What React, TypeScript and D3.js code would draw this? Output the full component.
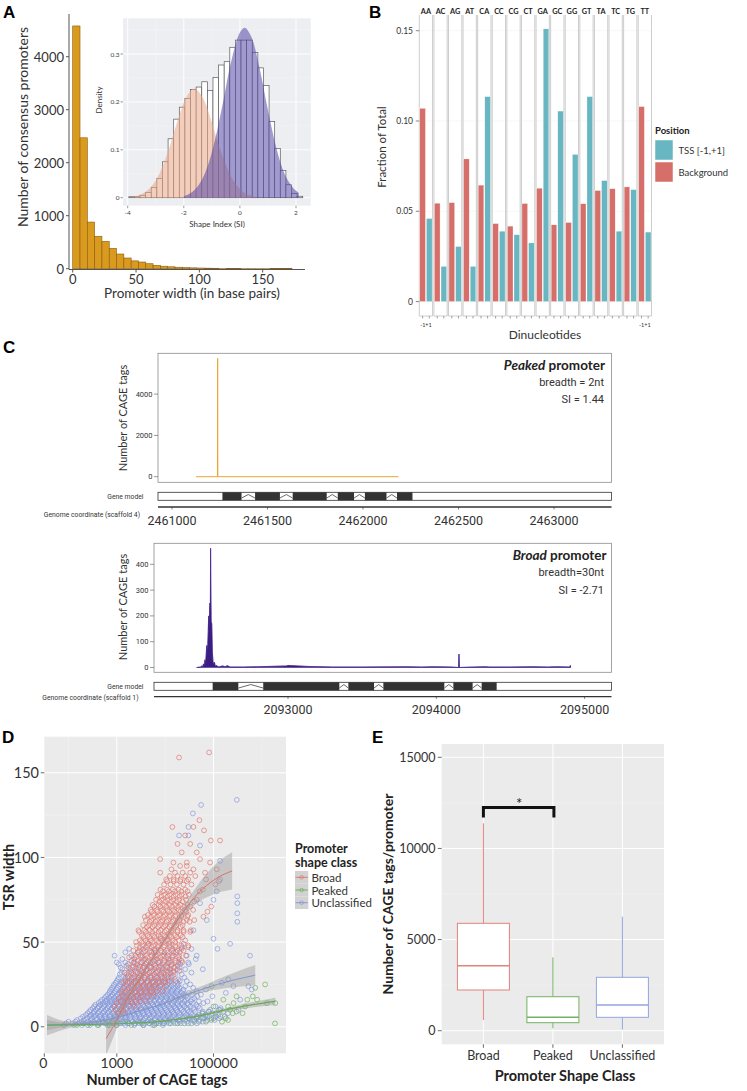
import React from "react";
import * as d3 from "d3";

const F = "Lato, 'Open Sans', 'DejaVu Sans', sans-serif";
const FN = "'Liberation Sans Narrow', Roboto, 'Noto Sans', sans-serif";
const FL = "'Liberation Sans', Arial, sans-serif";

// ---------------- Panel A data ----------------
const promWidthBinSize = 5.77;
const promWidthCounts = [4580, 2470, 880, 612, 517, 385, 277, 202, 148, 126, 94, 64, 47, 36, 28, 21, 16, 13, 10, 8, 6, 5, 4, 3, 3, 2, 2, 1, 1, 1];
const promWidthTicks = [0, 50, 100, 150];
const promCountTicks = [0, 1000, 2000, 3000, 4000];

const siBinStart = -3.96;
const siBinSize = 0.2;
const siDensity = [0.002, 0.002, 0.005, 0.011, 0.021, 0.04, 0.075, 0.123, 0.164, 0.189, 0.207, 0.226, 0.231, 0.242, 0.224, 0.251, 0.277, 0.284, 0.314, 0.329, 0.329, 0.329, 0.303, 0.271, 0.234, 0.159, 0.103, 0.057, 0.027, 0.009, 0.003];
const siTicks = [-4, -2, 0, 2];
const densityTicks = [0, 0.1, 0.2, 0.3];
const broadSI = [-3.8, -3.4, -3.0, -2.6, -2.2, -1.9, -1.62, -1.3, -1.0, -0.6, -0.2, 0.2, 0.5];
const broadSIDensity = [0.002, 0.011, 0.036, 0.09, 0.165, 0.211, 0.228, 0.206, 0.157, 0.084, 0.033, 0.009, 0.003];
const peakedSI = [-2.0, -1.8, -1.5, -1.2, -0.9, -0.6, -0.3, 0, 0.17, 0.4, 0.7, 1.0, 1.3, 1.6, 1.9, 2.1];
const peakedSIDensity = [0.003, 0.008, 0.024, 0.058, 0.118, 0.2, 0.287, 0.345, 0.355, 0.337, 0.271, 0.183, 0.104, 0.049, 0.02, 0.01];

// ---------------- Panel B data ----------------
const dinucleotides = ["AA", "AC", "AG", "AT", "CA", "CC", "CG", "CT", "GA", "GC", "GG", "GT", "TA", "TC", "TG", "TT"];
const backgroundFrac = [0.107, 0.0545, 0.0548, 0.079, 0.0645, 0.0432, 0.0418, 0.0543, 0.0628, 0.0425, 0.0438, 0.0542, 0.0615, 0.0625, 0.0635, 0.108];
const tssFrac = [0.046, 0.0195, 0.0305, 0.0195, 0.1135, 0.039, 0.037, 0.0325, 0.151, 0.1055, 0.0815, 0.1135, 0.067, 0.039, 0.062, 0.0385];
const fracTicks = [0, 0.05, 0.1, 0.15];
const fracTickLabels = ["0", "0.05", "0.10", "0.15"];

// ---------------- Panel C data ----------------
const peakedPos = [2461126, 2461238, 2461239, 2461240, 2462186];
const peakedTags = [0, 0, 5730, 0, 0];
const peakedExons = [[2461264, 2461364], [2461435, 2461565], [2461632, 2461810], [2461868, 2461953], [2462010, 2462123], [2462178, 2462259]];
const peakedCoordTicks = [2461000, 2461500, 2462000, 2462500, 2463000];
const peakedTagTicks = [0, 2000, 4000];

const broadPos = [2092384, 2092410, 2092418, 2092425, 2092430, 2092436, 2092440, 2092444, 2092448, 2092452, 2092456, 2092459, 2092462, 2092465, 2092468, 2092471, 2092474, 2092476, 2092478, 2092480, 2092482, 2092486, 2092490, 2092494, 2092498, 2092504, 2092510, 2092520, 2092530, 2092560, 2092575, 2092590, 2092610, 2092700, 2092800, 2092990, 2093000, 2093135, 2093300, 2093500, 2093800, 2093900, 2093980, 2094100, 2094150, 2094153, 2094156, 2094250, 2094330, 2094360, 2094500, 2094650, 2094750, 2094812, 2094900, 2094904, 2094906];
const broadTags = [0, 2, 6, 3, 14, 5, 30, 12, 48, 85, 60, 90, 140, 200, 150, 200, 250, 160, 462, 300, 177, 170, 60, 25, 12, 20, 5, 8, 2, 6, 3, 7, 2, 2, 3, 6, 8, 4, 2, 2, 3, 2, 3, 2, 0, 52, 0, 2, 3, 2, 2, 3, 2, 3, 2, 8, 0];
const broadExons = [[2092492, 2092665], [2092833, 2093346], [2093407, 2093580], [2093643, 2094054], [2094115, 2094245], [2094306, 2094407]];
const broadCoordTicks = [2093000, 2094000, 2095000];
const broadTagTicks = [0, 100, 200, 300, 400];

// ---------------- Panel D data ----------------
// rows: [TSR width, CAGE tag counts of points at that width]
const unclassifiedRows: [number, number[]][] = [
  [1, [80, 130, 190, 280, 420, 640, 980, 1500, 2300, 3600, 5600, 9000]],
  [2, [90, 120, 160, 210, 270, 350, 450, 560, 700, 900, 1100, 1400, 1800, 2300, 2900, 3700, 4700, 6000, 7500, 9500, 12000, 16000, 21000, 30000, 45000]],
  [3, [100, 140, 190, 250, 320, 420, 520, 650, 820, 1000, 1300, 1650, 2100, 2700, 3400, 4300, 5500, 7000, 9000, 11500, 15000, 20000, 28000, 40000, 60000]],
  [4, [150, 210, 290, 390, 510, 680, 880, 1150, 1550, 2000, 2600, 3500, 4600, 6200, 8200, 11000, 14500, 19000, 26000, 36000, 52000, 74000, 105000]],
  [5, [180, 240, 300, 380, 480, 600, 750, 950, 1200, 1500, 1900, 2400, 3000, 3800, 4800, 6100, 7800, 10000, 13000, 17000, 23000, 32000, 45000, 65000, 90000, 130000]],
  [6, [200, 270, 340, 440, 560, 710, 920, 1180, 1520, 1950, 2500, 3200, 4100, 5300, 6800, 8800, 11300, 14600, 19000, 25000, 33000, 47000, 68000, 110000, 170000]],
  [7, [230, 290, 360, 460, 580, 720, 900, 1150, 1450, 1800, 2300, 2900, 3600, 4600, 5800, 7400, 9400, 12000, 15500, 20000, 27000, 36000, 50000, 70000, 125000]],
  [8, [250, 330, 410, 520, 650, 830, 1050, 1330, 1700, 2150, 2750, 3500, 4450, 5700, 7200, 9200, 11800, 15000, 19500, 25500, 34000, 58000, 95000, 200000]],
  [9, [270, 340, 430, 540, 680, 860, 1080, 1350, 1700, 2150, 2700, 3400, 4300, 5400, 6900, 8700, 11000, 14000, 18000, 24000, 31000, 42000, 60000, 80000]],
  [10, [290, 370, 470, 600, 760, 960, 1220, 1550, 1970, 2500, 3150, 4000, 5100, 6500, 8200, 10400, 13300, 17000, 22000, 29000, 40000, 85000, 137000, 330000]],
  [11, [320, 400, 500, 640, 800, 1000, 1250, 1600, 2000, 2500, 3200, 4000, 5000, 6400, 8000, 10000, 13000, 16500, 21000, 28000, 38000, 52000, 140000]],
  [12, [340, 420, 540, 680, 870, 1100, 1400, 1780, 2260, 2870, 3650, 4650, 5900, 7500, 9500, 12100, 15400, 19600, 25000, 33000, 48000, 110000]],
  [13, [360, 460, 560, 700, 880, 1100, 1400, 1750, 2200, 2800, 3500, 4400, 5600, 7000, 8800, 11000, 14000, 18000, 23000, 30000, 44000]],
  [14, [420, 520, 640, 780, 990, 1260, 1600, 2030, 2580, 3280, 4170, 5300, 6750, 8600, 10900, 13900, 17700, 22500, 29000, 38000, 62000]],
  [15, [460, 580, 720, 900, 1100, 1350, 1650, 2000, 2450, 3000, 3800, 4800, 6000, 7600, 9600, 12000, 15000, 19000, 25000, 34000, 50000, 75000]],
  [16, [500, 620, 780, 980, 1230, 1540, 1940, 2450, 3100, 3900, 4900, 6200, 7900, 10100, 12900, 16500, 21000, 27000, 36000, 357000]],
  [17, [560, 700, 880, 1100, 1400, 1750, 2200, 2750, 3400, 4300, 5400, 6800, 8600, 10800, 13600, 17000, 22000, 29000, 40000]],
  [18, [600, 760, 960, 1220, 1550, 1960, 2500, 3150, 4000, 5050, 6400, 8100, 10300, 13000, 16500, 21000, 27000, 46000, 95000]],
  [19, [650, 820, 1040, 1320, 1680, 2130, 2700, 3450, 4400, 5600, 7100, 9000, 11500, 14600, 18600, 24000, 36000, 55000]],
  [20, [700, 900, 1150, 1470, 1880, 2400, 3070, 3920, 5000, 6400, 8200, 10500, 13400, 17100, 22000, 31000, 180000]],
  [21, [720, 930, 1200, 1550, 2000, 2550, 3250, 4150, 5300, 6750, 8600, 11000, 14000, 18000, 23500, 45000]],
  [22, [760, 990, 1290, 1680, 2180, 2850, 3720, 4860, 6350, 8300, 10800, 14100, 18400, 24000, 70000, 618000]],
  [23, [800, 1050, 1370, 1800, 2350, 3050, 4000, 5200, 6800, 8900, 11600, 15100, 19700, 38000]],
  [24, [850, 1120, 1480, 1950, 2570, 3400, 4500, 5950, 7850, 10400, 13700, 18000, 26000, 258000, 527000]],
  [25, [880, 1170, 1550, 2050, 2700, 3600, 4750, 6300, 8300, 11000, 14500, 19000, 33000]],
  [26, [950, 1250, 1670, 2250, 3030, 4080, 5500, 7400, 9950, 13400, 18000, 150000]],
  [27, [1000, 1350, 1800, 2400, 3200, 4300, 5700, 7600, 10100, 13500, 20000, 28000]],
  [28, [1050, 1450, 2000, 2750, 3800, 5200, 7200, 9900, 13600, 18700, 202000]],
  [29, [1100, 1500, 2050, 2800, 3800, 5200, 7100, 9700, 13200, 25000]],
  [31, [1150, 1600, 2200, 3100, 4300, 6000, 8300, 11500, 16000, 22000]],
  [32, [1250, 1750, 2450, 3400, 4700, 6600, 9200, 12800, 35000]],
  [34, [1300, 1900, 2800, 4100, 6000, 8700, 12500, 18000, 26000, 60000]],
  [35, [1200, 1750, 2500, 3600, 5200, 7500, 11000, 15500, 20000]],
  [37, [1100, 1700, 2600, 3900, 5900, 9000, 13600, 20500, 31000]],
  [38, [1000, 1500, 2200, 3300, 5000, 7500, 11500, 19000, 30000]],
  [40, [1300, 2300, 3900, 6800, 11700, 20000, 43000]],
  [42, [900, 2000, 3400, 6200, 9500, 14000, 28000, 45000, 570000]],
  [44, [1500, 2800, 5200, 9700, 17000]],
  [46, [1800, 3500, 6000, 14000, 22000, 35000, 121000]],
  [49, [4500, 12000, 24000, 221000]],
  [52, [8000, 100000]],
  [57, [38500]],
  [62, [311000]],
  [63, [72800]],
  [67, [311000]],
  [73, [52700, 311000]],
  [75, [100000]],
  [77, [311000]],
  [80, [117000]],
  [87, [137000]],
  [98, [137000]],
  [107, [52700]],
  [113, [19400, 30300]],
  [118, [30300]],
  [126, [37400]],
  [131, [55400]],
  [134, [304000]],
];

const broadRows: [number, number[]][] = [
  [8, [1100, 1500]],
  [10, [950, 1350]],
  [12, [900, 1300, 1900, 2600]],
  [14, [1000, 1450, 2100]],
  [15, [1200, 1700, 2300, 3100, 4200]],
  [17, [1100, 1550, 2200, 3000]],
  [18, [1400, 1900, 2500, 3300, 4400, 5800]],
  [20, [1250, 1700, 2350, 3200, 4300, 5700]],
  [21, [1300, 1800, 2400, 3000, 3900, 5100, 6700, 9000]],
  [23, [1450, 2000, 2700, 3600, 4800, 6400]],
  [24, [1600, 2100, 2800, 3600, 4700, 6100, 8000, 10500]],
  [26, [1350, 1850, 2450, 3250, 4300, 5700, 7600, 10000]],
  [27, [1500, 2000, 2600, 3300, 4300, 5500, 7200, 9400, 12500, 17000]],
  [29, [1650, 2200, 2900, 3800, 5000, 6600, 8700, 11500]],
  [30, [1700, 2300, 3000, 3900, 5000, 6500, 8400, 11000, 14500]],
  [32, [1450, 2000, 2700, 3600, 4800, 6400, 8500, 11300, 15000]],
  [33, [1900, 2500, 3200, 4100, 5300, 6800, 8800, 11500, 15000, 20000]],
  [35, [2100, 2800, 3700, 4900, 6500, 8600, 11400, 15200]],
  [36, [1600, 2200, 2900, 3700, 4800, 6200, 8000, 10400, 13500, 18000]],
  [38, [2300, 3100, 4100, 5400, 7200, 9500, 12600, 16800, 22500]],
  [39, [2000, 2700, 3500, 4500, 5800, 7500, 9700, 12600, 16500, 22000]],
  [41, [1800, 2500, 3300, 4400, 5900, 7900, 10500, 14000, 18700]],
  [42, [2400, 3100, 4000, 5200, 6700, 8700, 11300, 14700, 19500, 27000]],
  [44, [2700, 3600, 4800, 6400, 8500, 11300, 15000, 20000]],
  [45, [2200, 2900, 3800, 4900, 6300, 8200, 10600, 13800, 18000, 24000]],
  [47, [3000, 4000, 5300, 7100, 9400, 12500, 16700, 22300, 30000]],
  [48, [2600, 3400, 4400, 5700, 7400, 9600, 12500, 16300, 21500, 30000]],
  [50, [2500, 3300, 4300, 5600, 7300, 9500, 12400, 16200]],
  [51, [3000, 3900, 5000, 6500, 8500, 11000, 14300, 19000, 26000]],
  [53, [3600, 4700, 6100, 8000, 10400, 13500, 17600, 23000]],
  [54, [3300, 4300, 5600, 7300, 9500, 12300, 16000, 21000]],
  [56, [2900, 4000, 5400, 7300, 9800, 13200, 17800, 24000, 33000]],
  [57, [2800, 3700, 4800, 6200, 8100, 10500, 13700, 18000, 24000, 34000]],
  [59, [4200, 5500, 7200, 9400, 12300, 16000, 21000]],
  [60, [3500, 4600, 6000, 7800, 10100, 13100, 17000, 23000]],
  [62, [4800, 6300, 8200, 10700, 14000, 18300, 24000, 32000]],
  [63, [4000, 5200, 6800, 8800, 11500, 15000, 20000, 28000, 40000]],
  [65, [3800, 5100, 6800, 9100, 12200, 16300, 21800, 29000, 62000]],
  [66, [4400, 5800, 7500, 9800, 12700, 16600, 22000, 30000]],
  [68, [5300, 7000, 9200, 12100, 15900, 20900, 27500, 75000]],
  [69, [5000, 6600, 8600, 11200, 14600, 19000, 26000, 38000]],
  [71, [6000, 8000, 10600, 14000, 18600, 24700, 33000, 90000]],
  [72, [5500, 7300, 9500, 12400, 16200, 21000, 29000]],
  [74, [7600, 10000, 13200, 17400, 23000, 40000]],
  [75, [6500, 8600, 11300, 14800, 19500, 27000, 45000]],
  [77, [8400, 11200, 15000, 20000, 26500]],
  [78, [7000, 9500, 12500, 16500, 22000, 31000]],
  [80, [9000, 12000, 16000, 21500, 29000, 52000]],
  [81, [8000, 11000, 14500, 19000, 26000, 60000]],
  [84, [9500, 13000, 17500, 24000, 35000, 110000]],
  [86, [11000, 15000, 20500, 28000, 130000]],
  [87, [10500, 15000, 21000, 30000, 70000]],
  [89, [12500, 18000, 26000, 42000]],
  [91, [7890, 16000, 23000, 33000, 67000]],
  [93, [13500, 38500, 117000]],
  [95, [20400, 28000]],
  [97, [14800, 28000, 85000]],
  [99, [7890, 52700]],
  [103, [22000, 45000]],
  [108, [18000, 33000]],
  [110, [88000, 137000]],
  [113, [25900]],
  [116, [63600]],
  [118, [14100, 38500]],
  [122, [51200]],
  [159, [19400]],
  [162, [81300]],
];

const peakedRows: [number, number[]][] = [
  [1, [150, 250, 400, 700, 1000, 2000, 3500, 6000]],
  [2, [200, 300, 420, 600, 850, 1200, 1700, 2400, 3300, 4700, 6500, 9000, 13000, 18000, 25000, 35000, 1870000]],
  [3, [500, 1500, 3000, 5000, 8000, 50000, 70000, 150000]],
  [4, [12000, 20000, 40000, 90000, 200000]],
  [5, [30000, 60000, 100000, 180000]],
  [6, [45000, 75000, 140000]],
  [8, [60000, 110000, 250000, 400000]],
  [9, [80000, 160000, 300000]],
  [10, [130000, 220000]],
  [12, [100000, 200000, 450000]],
  [14, [260000, 1270000, 1900000]],
  [16, [160000, 500000, 800000]],
  [18, [300000, 650000]],
  [23, [730000]],
  [24, [92000]],
  [25, [1170000]],
];

// smoothing fits: tags, fitted width, half-width of confidence band
const broadFitTags = [600, 1000, 1600, 2500, 4200, 7000, 10800, 18000, 28000, 45000, 72800, 120000, 243000];
const broadFitWidth = [-7, 4, 15.7, 25, 35.2, 45, 53, 63, 70.7, 78, 83.5, 88, 92];
const broadFitSE = [10, 5, 2.5, 1.8, 1.5, 1.6, 1.8, 2.5, 3.5, 5, 7, 9, 11];
const unclassFitTags = [36, 100, 300, 1000, 3000, 10000, 22000, 50000, 120000, 300000, 730000];
const unclassFitWidth = [1, 1.2, 2.5, 5.5, 9.5, 14, 18, 21.5, 25, 28, 30.5];
const unclassFitSE = [6, 2, 0.8, 0.4, 0.4, 0.6, 1, 1.8, 3, 4.5, 6];
const peakedFitTags = [36, 100, 1000, 10000, 50000, 150000, 500000, 1900000];
const peakedFitWidth = [1, 1.2, 1.8, 3.5, 6.5, 9.5, 12.5, 15];
const peakedFitSE = [3, 1, 0.3, 0.4, 0.7, 1, 1.5, 2.2];
const tsrTicks = [0, 50, 100, 150];
const cageTicks = [0, 1000, 100000];

// ---------------- Panel E data ----------------
const shapeClasses = ["Broad", "Peaked", "Unclassified"];
const boxLow = [590, 130, 60];
const boxQ1 = [2233, 439, 735];
const boxMedian = [3566, 735, 1410];
const boxQ3 = [5892, 1865, 2930];
const boxHigh = [11379, 4027, 6254];
const perPromTicks = [0, 5000, 10000, 15000];

const C_RED = "#DE6F66";
const C_BLUE = "#7E95DA";
const C_GREEN = "#64AD52";

function PanelA() {
  const x = d3.scaleLinear().domain([0, 150]).range([72.7, 262.7]);
  const y = d3.scaleLinear().domain([0, 4000]).range([268.7, 56.7]);
  const xi = d3.scaleLinear().domain([-4, 2]).range([127.7, 296]);
  const yi = d3.scaleLinear().domain([0, 0.3]).range([197.7, 54]);
  const ix0 = 123, ix1 = 310.7, iy0 = 18.3, iy1 = 205.7;
  const broadArea = d3.area<[number, number]>().x(d => xi(d[0])).y0(yi(0)).y1(d => yi(d[1])).curve(d3.curveCatmullRom)(broadSI.map((s, i) => [s, broadSIDensity[i]]));
  const peakedArea = d3.area<[number, number]>().x(d => xi(d[0])).y0(yi(0)).y1(d => yi(d[1])).curve(d3.curveCatmullRom)(peakedSI.map((s, i) => [s, peakedSIDensity[i]]));
  return (
    <g>
      <text x={3} y={18} fontFamily={FL} fontWeight="bold" fontSize={17}>A</text>
      {promWidthCounts.map((c, i) => (
        <rect key={i} x={x(i * promWidthBinSize)} y={y(c)} width={x((i + 1) * promWidthBinSize) - x(i * promWidthBinSize)} height={y(0) - y(c)} fill="#D99A1E" stroke="#8A5E12" strokeWidth={0.6} />
      ))}
      <line x1={69} x2={69} y1={14} y2={269.5} stroke="#555" strokeWidth={1} />
      <line x1={69} x2={305} y1={269.5} y2={269.5} stroke="#555" strokeWidth={1} />
      {promCountTicks.map(t => (
        <g key={t}>
          <line x1={66} x2={69} y1={y(t)} y2={y(t)} stroke="#555" />
          <text x={64} y={y(t)} dominantBaseline="central" textAnchor="end" fontFamily={F} fontSize={13} fill="#333">{t}</text>
        </g>
      ))}
      {promWidthTicks.map(t => (
        <g key={t}>
          <line x1={x(t)} x2={x(t)} y1={269.5} y2={272.5} stroke="#555" />
          <text x={x(t)} y={278.5} dominantBaseline="central" textAnchor="middle" fontFamily={F} fontSize={13} fill="#333">{t}</text>
        </g>
      ))}
      <text transform="translate(22,127) rotate(-90)" textAnchor="middle" dominantBaseline="central" fontFamily={F} fontSize={14} fill="#333">Number of consensus promoters</text>
      <text x={192} y={293} textAnchor="middle" dominantBaseline="central" fontFamily={F} fontSize={13.5} fill="#333">Promoter width (in base pairs)</text>

      {/* inset */}
      <rect x={ix0} y={iy0} width={ix1 - ix0} height={iy1 - iy0} fill="#EDEEF1" />
      {[-3, -1, 1].map(t => <line key={t} x1={xi(t)} x2={xi(t)} y1={iy0} y2={iy1} stroke="#F6F7F9" strokeWidth={0.5} />)}
      {[0.05, 0.15, 0.25, 0.35].map(t => <line key={t} x1={ix0} x2={ix1} y1={yi(t)} y2={yi(t)} stroke="#F6F7F9" strokeWidth={0.5} />)}
      {siTicks.map(t => <line key={t} x1={xi(t)} x2={xi(t)} y1={iy0} y2={iy1} stroke="#fff" strokeWidth={0.9} />)}
      {densityTicks.map(t => <line key={t} x1={ix0} x2={ix1} y1={yi(t)} y2={yi(t)} stroke="#fff" strokeWidth={0.9} />)}
      {siDensity.map((d, i) => {
        const a = siBinStart + i * siBinSize;
        return <rect key={i} x={xi(a)} y={yi(d)} width={xi(a + siBinSize) - xi(a)} height={yi(0) - yi(d)} fill="#fff" stroke="#5a5a5a" strokeWidth={0.7} />;
      })}
      <path d={broadArea || ""} fill="#EBA586" fillOpacity={0.55} />
      <path d={peakedArea || ""} fill="#5347A8" fillOpacity={0.55} />
      {densityTicks.map(t => (
        <g key={t}>
          <line x1={120.5} x2={123} y1={yi(t)} y2={yi(t)} stroke="#555" strokeWidth={0.6} />
          <text x={119.5} y={yi(t)} textAnchor="end" dominantBaseline="central" fontFamily={F} fontSize={6.5} fill="#444">{t}</text>
        </g>
      ))}
      {siTicks.map(t => (
        <g key={t}>
          <line x1={xi(t)} x2={xi(t)} y1={iy1} y2={iy1 + 2.5} stroke="#555" strokeWidth={0.6} />
          <text x={xi(t)} y={212.3} textAnchor="middle" dominantBaseline="central" fontFamily={F} fontSize={6.5} fill="#444">{t}</text>
        </g>
      ))}
      <text transform="translate(99,100) rotate(-90)" textAnchor="middle" dominantBaseline="central" fontFamily={F} fontSize={8} fill="#333">Density</text>
      <text x={217} y={224} textAnchor="middle" dominantBaseline="central" fontFamily={F} fontSize={8} fill="#333">Shape Index (SI)</text>
    </g>
  );
}

function PanelB() {
  const y = d3.scaleLinear().domain([0, 0.15]).range([301.6, 30.7]);
  const fx = d3.scaleBand().domain(dinucleotides).range([419.3, 651.5]).paddingInner(0.09);
  const px = d3.scaleBand().domain(["Background", "TSS"]).range([0, fx.bandwidth()]).paddingInner(0.15).paddingOuter(0.08);
  const top = 15, bottom = 316;
  return (
    <g>
      <text x={369} y={18} fontFamily={FL} fontWeight="bold" fontSize={17}>B</text>
      {dinucleotides.map((d, i) => {
        const x0 = fx(d)!;
        const w = fx.bandwidth();
        return (
          <g key={d}>
            {fracTicks.slice(1).map(t => <line key={t} x1={x0} x2={x0 + w} y1={y(t)} y2={y(t)} stroke="#F1F1F1" strokeWidth={0.6} />)}
            <line x1={x0} x2={x0} y1={top} y2={bottom} stroke="#B8B8B8" strokeWidth={0.7} />
            <line x1={x0 + w} x2={x0 + w} y1={top} y2={bottom} stroke="#B8B8B8" strokeWidth={0.7} />
            <line x1={x0} x2={x0 + w} y1={bottom} y2={bottom} stroke="#B8B8B8" strokeWidth={0.7} />
            <rect x={x0 + px("Background")!} y={y(backgroundFrac[i])} width={px.bandwidth()} height={y(0) - y(backgroundFrac[i])} fill="#D66F69" stroke="#fff" strokeWidth={0.3} />
            <rect x={x0 + px("TSS")!} y={y(tssFrac[i])} width={px.bandwidth()} height={y(0) - y(tssFrac[i])} fill="#67B6C1" stroke="#fff" strokeWidth={0.3} />
            <text x={x0 + w / 2} y={11} textAnchor="middle" dominantBaseline="central" fontFamily={F} fontWeight="bold" fontSize={7.3} fill="#222">{d}</text>
            {["Background", "TSS"].map(p => (
              <line key={p} x1={x0 + px(p)! + px.bandwidth() / 2} x2={x0 + px(p)! + px.bandwidth() / 2} y1={bottom} y2={bottom + 2.5} stroke="#666" strokeWidth={0.6} />
            ))}
            {(i === 0 || i === dinucleotides.length - 1) && (
              <text x={x0 + w / 2} y={325} textAnchor="middle" dominantBaseline="central" fontFamily={F} fontSize={5.5} fill="#333">-1+1</text>
            )}
          </g>
        );
      })}
      {fracTicks.map((t, i) => (
        <g key={t}>
          <line x1={415.8} x2={419.3} y1={y(t)} y2={y(t)} stroke="#555" strokeWidth={0.7} />
          <text x={413} y={y(t)} textAnchor="end" dominantBaseline="central" fontFamily={F} fontSize={8.5} fill="#333">{fracTickLabels[i]}</text>
        </g>
      ))}
      <text transform="translate(381.5,147) rotate(-90)" textAnchor="middle" dominantBaseline="central" fontFamily={F} fontSize={11.5} fill="#333">Fraction of Total</text>
      <text x={545} y={334} textAnchor="middle" dominantBaseline="central" fontFamily={F} fontSize={12} fill="#333">Dinucleotides</text>
      <text x={655} y={130} dominantBaseline="central" fontFamily={F} fontWeight="bold" fontSize={9.5} fill="#222">Position</text>
      <rect x={655} y={140} width={18} height={20} fill="#67B6C1" stroke="#fff" strokeWidth={0.5} />
      <rect x={655} y={162} width={18} height={20} fill="#D66F69" stroke="#fff" strokeWidth={0.5} />
      <text x={678.5} y={150.5} dominantBaseline="central" fontFamily={F} fontSize={9.5} fill="#333">TSS [-1,+1]</text>
      <text x={678.5} y={172} dominantBaseline="central" fontFamily={F} fontSize={9.5} fill="#333">Background</text>
    </g>
  );
}

function GeneModel({ x, exons, y, h, x0, x1 }: { x: d3.ScaleLinear<number, number>; exons: number[][]; y: number; h: number; x0: number; x1: number }) {
  return (
    <g>
      <rect x={x0} y={y} width={x1 - x0} height={h} fill="#fff" stroke="#333" strokeWidth={0.8} />
      {exons.map(([s, e], i) => <rect key={i} x={x(s)} y={y} width={x(e) - x(s)} height={h} fill="#333" />)}
      {exons.slice(1).map(([s], i) => {
        const a = x(exons[i][1]);
        const b = x(s);
        const m = (a + b) / 2;
        return <path key={i} d={`M${a},${y + h * 0.72}L${m},${y + h * 0.28}L${b},${y + h * 0.72}`} stroke="#444" strokeWidth={0.8} fill="none" />;
      })}
    </g>
  );
}

function PanelC() {
  const x1 = d3.scaleLinear().domain([2461000, 2463000]).range([172, 554]);
  const y1 = d3.scaleLinear().domain([0, 4000]).range([476.7, 394.1]);
  const p1 = { l: 158, r: 611.5, t: 353.3, b: 482.3 };
  const line1 = d3.line<number>().x((_, i) => x1(peakedPos[i])).y(d => y1(d))(peakedTags) || "";
  const x2 = d3.scaleLinear().domain([2093000, 2095000]).range([288, 584.6]);
  const y2 = d3.scaleLinear().domain([0, 400]).range([667.5, 564.3]);
  const p2 = { l: 154, r: 611.5, t: 543.3, b: 672.3 };
  const area2 = d3.area<number>().x((_, i) => x2(broadPos[i])).y0(y2(0)).y1(d => y2(d))(broadTags) || "";
  const line2 = d3.line<number>().x((_, i) => x2(broadPos[i])).y(d => y2(d))(broadTags) || "";
  return (
    <g>
      <text x={3} y={353} fontFamily={FL} fontWeight="bold" fontSize={17}>C</text>
      <rect x={p1.l} y={p1.t} width={p1.r - p1.l} height={p1.b - p1.t} fill="#fff" stroke="#8c8c8c" strokeWidth={0.8} />
      <path d={line1} fill="none" stroke="#E8A636" strokeWidth={1} />
      {peakedTagTicks.map(t => (
        <g key={t}>
          <line x1={154} x2={158} y1={y1(t)} y2={y1(t)} stroke="#555" strokeWidth={0.6} />
          <text x={152.5} y={y1(t)} textAnchor="end" dominantBaseline="central" fontFamily={FN} fontSize={7.5} fill="#333">{t}</text>
        </g>
      ))}
      <text transform="translate(122,418) rotate(-90)" textAnchor="middle" dominantBaseline="central" fontFamily={F} fontSize={11} fill="#333">Number of CAGE tags</text>
      <text x={605} y={365} textAnchor="end" dominantBaseline="central" fontFamily={F} fontSize={13.5} fill="#222">
        <tspan fontWeight="bold" fontStyle="italic">Peaked</tspan>
        <tspan fontWeight="bold"> promoter</tspan>
      </text>
      <text x={604} y={382.5} textAnchor="end" dominantBaseline="central" fontFamily={FN} fontSize={11} fill="#333">breadth = 2nt</text>
      <text x={604} y={399.5} textAnchor="end" dominantBaseline="central" fontFamily={FN} fontSize={11} fill="#333">SI = 1.44</text>
      <GeneModel x={x1} exons={peakedExons} y={492.3} h={8} x0={p1.l} x1={p1.r} />
      <text x={143.5} y={496.5} textAnchor="end" dominantBaseline="central" fontFamily={FN} fontSize={6.8} fill="#333">Gene model</text>
      <text x={140} y={514.5} textAnchor="end" dominantBaseline="central" fontFamily={FN} fontSize={6.8} fill="#333">Genome coordinate (scaffold 4)</text>
      <line x1={p1.l} x2={p1.r} y1={507} y2={507} stroke="#333" strokeWidth={1.3} />
      {peakedCoordTicks.map(t => (
        <g key={t}>
          <line x1={x1(t)} x2={x1(t)} y1={507} y2={509.5} stroke="#333" strokeWidth={0.6} />
          <text x={x1(t)} y={520} textAnchor="middle" dominantBaseline="central" fontFamily={FN} fontSize={12.5} fill="#333">{t}</text>
        </g>
      ))}

      <rect x={p2.l} y={p2.t} width={p2.r - p2.l} height={p2.b - p2.t} fill="#fff" stroke="#8c8c8c" strokeWidth={0.8} />
      <path d={line2} fill="none" stroke="#7D63C2" strokeWidth={0.8} />
      <path d={area2} fill="#3B1C80" stroke="#3B1C80" strokeWidth={0.5} />
      {broadTagTicks.map(t => (
        <g key={t}>
          <line x1={150} x2={154} y1={y2(t)} y2={y2(t)} stroke="#555" strokeWidth={0.6} />
          <text x={148.5} y={y2(t)} textAnchor="end" dominantBaseline="central" fontFamily={FN} fontSize={7.5} fill="#333">{t}</text>
        </g>
      ))}
      <text transform="translate(122,607) rotate(-90)" textAnchor="middle" dominantBaseline="central" fontFamily={F} fontSize={11} fill="#333">Number of CAGE tags</text>
      <text x={606.5} y={554.5} textAnchor="end" dominantBaseline="central" fontFamily={F} fontSize={13.5} fill="#222">
        <tspan fontWeight="bold" fontStyle="italic">Broad</tspan>
        <tspan fontWeight="bold"> promoter</tspan>
      </text>
      <text x={604} y={572.5} textAnchor="end" dominantBaseline="central" fontFamily={FN} fontSize={11} fill="#333">breadth=30nt</text>
      <text x={604} y={590.5} textAnchor="end" dominantBaseline="central" fontFamily={FN} fontSize={11} fill="#333">SI = -2.71</text>
      <GeneModel x={x2} exons={broadExons} y={682.3} h={8} x0={p2.l} x1={p2.r} />
      <text x={143.5} y={687} textAnchor="end" dominantBaseline="central" fontFamily={FN} fontSize={6.8} fill="#333">Gene model</text>
      <text x={138.5} y={698.3} textAnchor="end" dominantBaseline="central" fontFamily={FN} fontSize={6.8} fill="#333">Genome coordinate (scaffold 1)</text>
      <line x1={p2.l} x2={p2.r} y1={696.7} y2={696.7} stroke="#333" strokeWidth={1.3} />
      {broadCoordTicks.map(t => (
        <g key={t}>
          <line x1={x2(t)} x2={x2(t)} y1={696.7} y2={699} stroke="#333" strokeWidth={0.6} />
          <text x={x2(t)} y={709.5} textAnchor="middle" dominantBaseline="central" fontFamily={FN} fontSize={12.5} fill="#333">{t}</text>
        </g>
      ))}
    </g>
  );
}

function PanelD() {
  const pl = 44.3, pr = 286, pt = 736.7, pb = 1053.3;
  const x = d3.scaleLog().domain([Math.pow(10, 1.5), Math.pow(10, 6.5)]).range([pl, pr]);
  const y = d3.scaleLinear().domain([-15.65, 171.3]).range([pb, pt]);
  const xt = (t: number) => (t <= 0 ? pl : x(t));
  const flat = (rows: [number, number[]][]) => rows.flatMap(([w, ts]) => ts.map(t => [t, w] as [number, number]));
  const band = (tags: number[], w: number[], se: number[]) =>
    d3.area<number>().x((_, i) => x(tags[i])).y0((_, i) => y(w[i] - se[i])).y1((_, i) => y(w[i] + se[i])).curve(d3.curveMonotoneX)(tags) || "";
  const fit = (tags: number[], w: number[]) => d3.line<number>().x((_, i) => x(tags[i])).y((_, i) => y(w[i])).curve(d3.curveMonotoneX)(tags) || "";
  const series = [
    { rows: peakedRows, color: C_GREEN },
    { rows: unclassifiedRows, color: C_BLUE },
    { rows: broadRows, color: C_RED },
  ];
  const legend = [
    { label: "Broad", color: C_RED },
    { label: "Peaked", color: C_GREEN },
    { label: "Unclassified", color: C_BLUE },
  ];
  return (
    <g>
      <defs>
        <clipPath id="clipD"><rect x={pl} y={pt} width={pr - pl} height={pb - pt} /></clipPath>
      </defs>
      <text x={2} y={743} fontFamily={FL} fontWeight="bold" fontSize={17}>D</text>
      <rect x={pl} y={pt} width={pr - pl} height={pb - pt} fill="#EBEBEB" />
      {[25, 75, 125].map(t => <line key={t} x1={pl} x2={pr} y1={y(t)} y2={y(t)} stroke="#F5F5F5" strokeWidth={0.5} />)}
      {[100, 10000, 1000000].map(t => <line key={t} x1={x(t)} x2={x(t)} y1={pt} y2={pb} stroke="#F5F5F5" strokeWidth={0.5} />)}
      {tsrTicks.map(t => <line key={t} x1={pl} x2={pr} y1={y(t)} y2={y(t)} stroke="#fff" strokeWidth={1} />)}
      {cageTicks.filter(t => t > 0).map(t => <line key={t} x1={x(t)} x2={x(t)} y1={pt} y2={pb} stroke="#fff" strokeWidth={1} />)}
      <g clipPath="url(#clipD)">
        {series.map((s, si) => (
          <g key={si}>
            {flat(s.rows).map(([t, w], i) => (
              <circle key={i} cx={x(t)} cy={y(w)} r={2.4} fill="none" stroke={s.color} strokeWidth={0.65} />
            ))}
          </g>
        ))}
        <path d={band(broadFitTags, broadFitWidth, broadFitSE)} fill="#9A9A9A" fillOpacity={0.45} />
        <path d={band(unclassFitTags, unclassFitWidth, unclassFitSE)} fill="#9A9A9A" fillOpacity={0.45} />
        <path d={band(peakedFitTags, peakedFitWidth, peakedFitSE)} fill="#9A9A9A" fillOpacity={0.45} />
        <path d={fit(broadFitTags, broadFitWidth)} fill="none" stroke={C_RED} strokeWidth={1} />
        <path d={fit(unclassFitTags, unclassFitWidth)} fill="none" stroke={C_BLUE} strokeWidth={1} />
        <path d={fit(peakedFitTags, peakedFitWidth)} fill="none" stroke={C_GREEN} strokeWidth={1.2} />
      </g>
      {tsrTicks.map(t => (
        <g key={t}>
          <line x1={40.8} x2={pl} y1={y(t)} y2={y(t)} stroke="#444" strokeWidth={0.8} />
          <text x={39} y={y(t)} textAnchor="end" dominantBaseline="central" fontFamily={F} fontSize={14.5} fill="#333">{t}</text>
        </g>
      ))}
      {cageTicks.map(t => (
        <g key={t}>
          <line x1={xt(t)} x2={xt(t)} y1={pb} y2={pb + 3.5} stroke="#444" strokeWidth={0.8} />
          <text x={xt(t) - (t === 0 ? 1 : 0)} y={1062} textAnchor="middle" dominantBaseline="central" fontFamily={F} fontSize={14} fill="#333">{t}</text>
        </g>
      ))}
      <text transform="translate(8,877) rotate(-90)" textAnchor="middle" dominantBaseline="central" fontFamily={F} fontWeight="bold" fontSize={14.5} fill="#222">TSR width</text>
      <text x={157} y={1079.5} textAnchor="middle" dominantBaseline="central" fontFamily={F} fontWeight="bold" fontSize={14.5} fill="#222">Number of CAGE tags</text>
      <text x={295} y={848} dominantBaseline="central" fontFamily={F} fontWeight="bold" fontSize={12.5} fill="#222">Promoter</text>
      <text x={295} y={862.5} dominantBaseline="central" fontFamily={F} fontWeight="bold" fontSize={12.5} fill="#222">shape class</text>
      {legend.map((l, i) => {
        const cy = 877.3 + i * 12.7;
        return (
          <g key={l.label}>
            <rect x={295} y={cy - 6.35} width={13.3} height={12.7} fill="#D2D2D2" />
            <line x1={295.5} x2={307.8} y1={cy} y2={cy} stroke={l.color} strokeWidth={0.9} />
            <circle cx={301.6} cy={cy} r={1.8} fill="none" stroke={l.color} strokeWidth={0.6} />
            <text x={311.5} y={cy} dominantBaseline="central" fontFamily={F} fontSize={11.5} fill="#333">{l.label}</text>
          </g>
        );
      })}
    </g>
  );
}

function PanelE() {
  const pl = 441.7, pr = 664, pt = 744, pb = 1044.3;
  const y = d3.scaleLinear().domain([-746, 15730]).range([pb, pt]);
  const x = d3.scalePoint().domain(shapeClasses).range([483.4, 622.4]);
  const colors = ["#E0837A", "#72B262", "#93A4E0"];
  const bw = 52;
  const bx1 = x("Broad")!, bx2 = x("Peaked")!;
  const brTop = y(12250), brLeg = y(11700);
  return (
    <g>
      <text x={372} y={743} fontFamily={FL} fontWeight="bold" fontSize={17}>E</text>
      <rect x={pl} y={pt} width={pr - pl} height={pb - pt} fill="#EBEBEB" />
      {[2500, 7500, 12500].map(t => <line key={t} x1={pl} x2={pr} y1={y(t)} y2={y(t)} stroke="#F5F5F5" strokeWidth={0.5} />)}
      {perPromTicks.map(t => <line key={t} x1={pl} x2={pr} y1={y(t)} y2={y(t)} stroke="#fff" strokeWidth={1} />)}
      {shapeClasses.map(c => <line key={c} x1={x(c)!} x2={x(c)!} y1={pt} y2={pb} stroke="#fff" strokeWidth={1} />)}
      {shapeClasses.map((c, i) => {
        const cx = x(c)!;
        return (
          <g key={c} stroke={colors[i]} strokeWidth={1}>
            <line x1={cx} x2={cx} y1={y(boxHigh[i])} y2={y(boxQ3[i])} />
            <line x1={cx} x2={cx} y1={y(boxQ1[i])} y2={y(boxLow[i])} />
            <rect x={cx - bw / 2} y={y(boxQ3[i])} width={bw} height={y(boxQ1[i]) - y(boxQ3[i])} fill="#fff" />
            <line x1={cx - bw / 2} x2={cx + bw / 2} y1={y(boxMedian[i])} y2={y(boxMedian[i])} strokeWidth={1.4} />
          </g>
        );
      })}
      <path d={`M${bx1},${brLeg}V${brTop}H${bx2 + 1}V${brLeg}`} fill="none" stroke="#111" strokeWidth={3} />
      <text x={(bx1 + bx2) / 2 + 1} y={803} textAnchor="middle" dominantBaseline="central" fontFamily={F} fontSize={15} fill="#222">*</text>
      {perPromTicks.map(t => (
        <g key={t}>
          <line x1={437.8} x2={pl} y1={y(t)} y2={y(t)} stroke="#444" strokeWidth={0.8} />
          <text x={435.5} y={y(t)} textAnchor="end" dominantBaseline="central" fontFamily={F} fontSize={12.5} fill="#333">{t}</text>
        </g>
      ))}
      {shapeClasses.map(c => (
        <g key={c}>
          <line x1={x(c)!} x2={x(c)!} y1={pb} y2={pb + 3.5} stroke="#444" strokeWidth={0.8} />
          <text x={x(c)!} y={1055} textAnchor="middle" dominantBaseline="central" fontFamily={F} fontSize={12.5} fill="#333">{c}</text>
        </g>
      ))}
      <text transform="translate(387,894) rotate(-90)" textAnchor="middle" dominantBaseline="central" fontFamily={F} fontWeight="bold" fontSize={14} fill="#222">Number of CAGE tags/promoter</text>
      <text x={565} y={1075} textAnchor="middle" dominantBaseline="central" fontFamily={F} fontWeight="bold" fontSize={14.5} fill="#222">Promoter Shape Class</text>
    </g>
  );
}

export default function App() {
  return (
    <svg width={747} height={1091} viewBox="0 0 747 1091" style={{ position: "absolute", left: 0, top: 0, background: "#fff" }}>
      <rect x={0} y={0} width={747} height={1091} fill="#fff" />
      <PanelA />
      <PanelB />
      <PanelC />
      <PanelD />
      <PanelE />
    </svg>
  );
}
